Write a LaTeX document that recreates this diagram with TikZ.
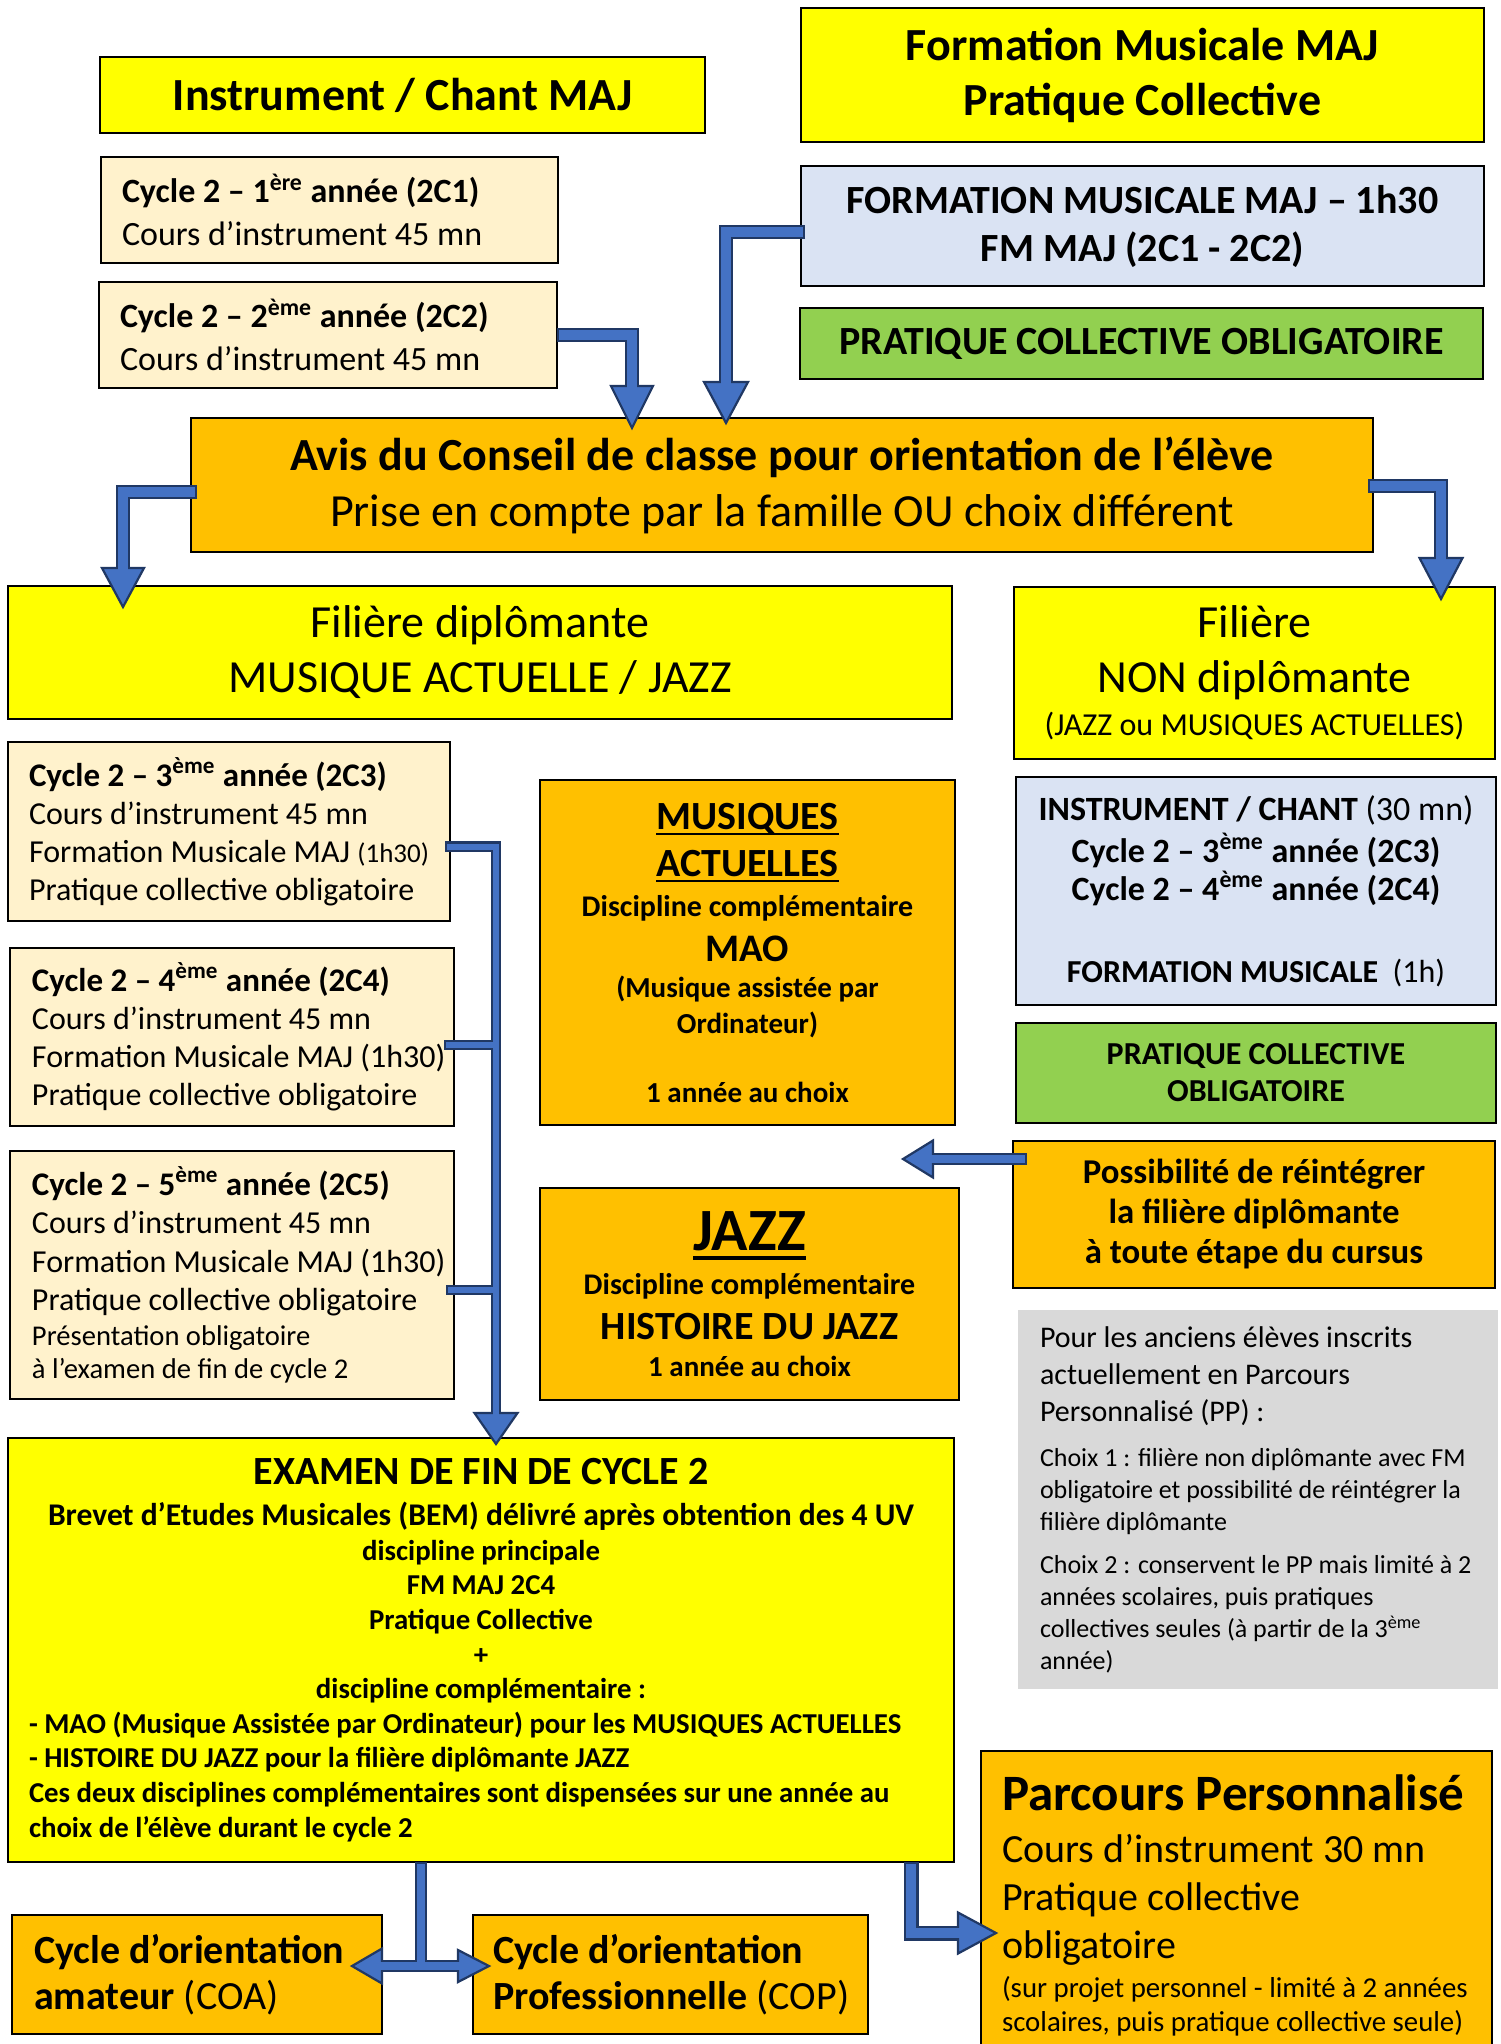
\documentclass[tikz,border=0pt]{standalone}
\usepackage{fontspec}
\setmainfont{Carlito}
\usetikzlibrary{calc}
\setlength{\parindent}{0pt}
\definecolor{cyel}{HTML}{FFFF00}
\definecolor{corg}{HTML}{FFC000}
\definecolor{ccream}{HTML}{FFF2CC}
\definecolor{cblue}{HTML}{DAE3F3}
\definecolor{cgreen}{HTML}{92D050}
\definecolor{cgray}{HTML}{D9D9D9}
\definecolor{afill}{HTML}{4472C4}
\definecolor{aline}{HTML}{203864}
\newcommand\ahead[4]{\filldraw[fill=afill,draw=aline,line width=1.1pt,line join=miter,shift={(#1)},rotate=#2] (0,0) -- (-#3,#4) -- (-#3,-#4) -- cycle;}
\newcommand\uln[3]{\leavevmode\setbox0\hbox{#1}\rlap{\rule[-#2]{\wd0}{#3}}\box0}
\begin{document}
\begin{tikzpicture}[x=0.5pt,y=-0.5pt,
  box/.style={draw=black,line width=1.3pt,anchor=north west,inner sep=0pt,outer sep=0pt},
  cbox/.style={box,align=center,execute at begin node={\spaceskip=0pt\xspaceskip=0pt\centering}},
  lbox/.style={box,align=left,execute at begin node={\spaceskip=0pt\xspaceskip=0pt\raggedright}},
  aout/.style={draw=aline,line width=#1,line join=miter},
  ain/.style={draw=afill,line width=#1,line join=miter,shorten <=1.2pt,shorten >=-1.5pt}]
\fill[white] (0,0) rectangle (1500,2044);
\useasboundingbox (0,0) rectangle (1500,2044);

% ---------- top ----------
\node[cbox,fill=cyel,minimum width=302.5pt,minimum height=38pt,text width=290pt,font=\fontsize{23}{27.5}\selectfont\bfseries] (inst) at (100,57) {Instrument / Chant MAJ};
\node[cbox,fill=cyel,minimum width=341.5pt,minimum height=67pt,text width=330pt,font=\fontsize{23}{27.5}\selectfont\bfseries] (fmt) at (801,8) {Formation Musicale MAJ\\Pratique Collective};
\node[lbox,fill=ccream,minimum width=228.5pt,minimum height=53pt,text width=207.5pt,font=\fontsize{17}{21.5}\selectfont] (c2c1) at (101,157) {\textbf{Cycle 2 – 1\textsuperscript{ère} année (2C1)}\\Cours d’instrument 45 mn};
\node[lbox,fill=ccream,minimum width=229pt,minimum height=53pt,text width=208pt,font=\fontsize{17}{21.5}\selectfont] (c2c2) at (99,282) {\textbf{Cycle 2 – 2\textsuperscript{ème} année (2C2)}\\Cours d’instrument 45 mn};
\node[cbox,fill=cblue,minimum width=341.5pt,minimum height=60pt,text width=330pt,font=\fontsize{20}{24}\selectfont\bfseries] (fmmaj) at (801,166) {FORMATION MUSICALE MAJ – 1h30\\FM MAJ (2C1 - 2C2)};
\node[cbox,fill=cgreen,minimum width=341.5pt,minimum height=35.5pt,text width=330pt,font=\fontsize{20}{24}\selectfont\bfseries] (pco1) at (800,308) {PRATIQUE COLLECTIVE OBLIGATOIRE};

% ---------- avis ----------
\node[cbox,fill=corg,minimum width=591pt,minimum height=67pt,text width=580pt,font=\fontsize{23}{28}\selectfont] (avis) at (191,418) {\textbf{Avis du Conseil de classe pour orientation de l’élève}\\Prise en compte par la famille OU choix différent};

\node[cbox,fill=cyel,minimum width=472pt,minimum height=66.5pt,text width=460pt,font=\fontsize{23}{27.5}\selectfont] (fdip) at (8,586) {Filière diplômante\\MUSIQUE ACTUELLE / JAZZ};
\node[cbox,fill=cyel,minimum width=240.5pt,minimum height=86pt,text width=230pt] (fnon) at (1014,587) {%
{\fontsize{23}{27.5}\selectfont Filière\par NON diplômante\par}
{\fontsize{16}{21.5}\selectfont (JAZZ ou MUSIQUES ACTUELLES)\par}};

% ---------- cycle 2 left ----------
\node[lbox,fill=ccream,minimum width=221pt,minimum height=89.5pt,text width=200pt,font=\fontsize{16}{19}\selectfont] (c2c3) at (8,742) {\mbox{\fontsize{16.5}{19}\selectfont\textbf{Cycle 2 – 3\textsuperscript{ème} année (2C3)}}\\\mbox{Cours d’instrument 45 mn}\\\mbox{Formation Musicale MAJ {\fontsize{13.5}{19}\selectfont (1h30)}}\\\mbox{Pratique collective obligatoire}};
\node[lbox,fill=ccream,minimum width=222pt,minimum height=89pt,text width=200pt,font=\fontsize{16}{19}\selectfont] (c2c4) at (10,948) {\mbox{\fontsize{16.5}{19}\selectfont\textbf{Cycle 2 – 4\textsuperscript{ème} année (2C4)}}\\\mbox{Cours d’instrument 45 mn}\\\mbox{Formation Musicale MAJ (1h30)}\\\mbox{Pratique collective obligatoire}};
\node[lbox,fill=ccream,minimum width=222pt,minimum height=124pt,text width=200pt] (c2c5) at (10,1151) {%
{\fontsize{16}{19.3}\selectfont\mbox{\fontsize{16.5}{19.3}\selectfont\textbf{Cycle 2 – 5\textsuperscript{ème} année (2C5)}}\\\mbox{Cours d’instrument 45 mn}\\\mbox{Formation Musicale MAJ (1h30)}\\\mbox{Pratique collective obligatoire}\par}
{\fontsize{14.3}{17.5}\selectfont Présentation obligatoire\par}
{\fontsize{14.3}{16.5}\selectfont à l’examen de fin de cycle 2\par}};

% ---------- middle ----------
\node[cbox,fill=corg,minimum width=207.5pt,minimum height=172.5pt,text width=200pt,font=\bfseries] (musact) at (540,780) {%
{\fontsize{20}{23.5}\selectfont\uln{MUSIQUES}{3.2pt}{1.2pt}\par\uln{ACTUELLES}{3.2pt}{1.2pt}\par}
{\fontsize{15}{20}\selectfont Discipline complémentaire\par}
{\fontsize{19.5}{22.5}\selectfont MAO\par}
{\fontsize{14.5}{18}\selectfont (Musique assistée par\\Ordinateur)\par}
{\fontsize{14.5}{34.5}\selectfont 1 année au choix\par}};
\node[cbox,fill=corg,minimum width=209.5pt,minimum height=106pt,text width=200pt,font=\bfseries] (jazz) at (540,1188) {%
{\fontsize{30}{30}\selectfont\uln{JAZZ}{4.6pt}{1.6pt}\par}
{\fontsize{15}{22}\selectfont Discipline complémentaire\par}
{\fontsize{20}{22.5}\selectfont HISTOIRE DU JAZZ\par}
{\fontsize{14.5}{18.5}\selectfont 1 année au choix\par}};

% ---------- right ----------
\node[cbox,fill=cblue,minimum width=240pt,minimum height=114pt,text width=236pt] (instch) at (1016,777) {%
{\fontsize{17}{20}\selectfont\textbf{INSTRUMENT / CHANT} (30 mn)\par}
{\fontsize{17}{21}\selectfont\bfseries Cycle 2 – 3\textsuperscript{ème} année (2C3)\par}
{\fontsize{17}{19}\selectfont\bfseries Cycle 2 – 4\textsuperscript{ème} année (2C4)\par}
{\fontsize{16}{41}\selectfont\textbf{FORMATION MUSICALE}\ \ (1h)\par}};
\node[cbox,fill=cgreen,minimum width=240pt,minimum height=50pt,text width=230pt,font=\fontsize{16}{18.5}\selectfont\bfseries] (pco2) at (1016,1023) {PRATIQUE COLLECTIVE\\OBLIGATOIRE};
\node[cbox,fill=corg,minimum width=241pt,minimum height=73.5pt,text width=230pt,font=\fontsize{17.4}{20}\selectfont\bfseries] (poss) at (1013,1141) {Possibilité de réintégrer\\la filière diplômante\\à toute étape du cursus};
\node[lbox,draw=none,fill=cgray,minimum width=240pt,minimum height=189.5pt,text width=218pt] (gray) at (1018,1310) {%
{\fontsize{15}{18.5}\selectfont Pour les anciens élèves inscrits\\actuellement en Parcours\\Personnalisé (PP) :\par}
{\fontsize{13}{16}\selectfont\vspace{6.5pt}\mbox{Choix 1 : filière non diplômante avec FM}\\\mbox{obligatoire et possibilité de réintégrer la}\\filière diplômante\par}
{\fontsize{13}{16}\selectfont\vspace{5.5pt}\mbox{Choix 2 : conservent le PP mais limité à 2}\\années scolaires, puis pratiques\\\mbox{collectives seules (à partir de la 3\textsuperscript{ème}}\\année)\par}};

% ---------- bottom ----------
\node[cbox,fill=cyel,minimum width=473pt,minimum height=212pt,text width=452pt,font=\bfseries] (exam) at (8,1438) {%
{\fontsize{20}{20}\selectfont EXAMEN DE FIN DE CYCLE 2\par}
{\fontsize{15.8}{20.5}\selectfont\mbox{Brevet d’Etudes Musicales (BEM) délivré après obtention des 4 UV}\par}
{\fontsize{14.4}{17.3}\selectfont discipline principale\\FM MAJ 2C4\\Pratique Collective\\+\\discipline complémentaire :\par}
{\fontsize{14.4}{17.3}\selectfont\raggedright\mbox{- MAO (Musique Assistée par Ordinateur) pour les MUSIQUES ACTUELLES}\\\mbox{- HISTOIRE DU JAZZ pour la filière diplômante JAZZ}\\\mbox{Ces deux disciplines complémentaires sont dispensées sur une année au}\\\mbox{choix de l’élève durant le cycle 2}\par}};
\node[lbox,fill=corg,minimum width=255.5pt,minimum height=154pt,text width=234.5pt] (parc) at (981,1751) {%
{\fontsize{25.5}{30}\selectfont\bfseries\mbox{Parcours Personnalisé}\par}
{\fontsize{20}{26}\selectfont Cours d’instrument 30 mn\par}
{\fontsize{20}{24}\selectfont Pratique collective\\obligatoire\par}
{\fontsize{14.4}{19.5}\selectfont\mbox{(sur projet personnel - limité à 2 années}\par}
{\fontsize{14.4}{17}\selectfont\mbox{scolaires, puis pratique collective seule)}\par}};
\node[lbox,fill=corg,minimum width=185pt,minimum height=59.5pt,text width=163pt,font=\fontsize{20}{23}\selectfont] (coa) at (12,1915) {\mbox{\textbf{Cycle d’orientation}}\\\mbox{\textbf{amateur} (COA)}};
\node[lbox,fill=corg,minimum width=197.5pt,minimum height=59.5pt,text width=177.5pt,font=\fontsize{20}{23}\selectfont] (cop) at (473,1915) {\mbox{\textbf{Cycle d’orientation}}\\\mbox{\textbf{Professionnelle} (COP)}};

% ---------- arrows ----------
% A : 2C2 -> avis
\coordinate (aT) at ($(avis.north -| 632,0)+(0,10)$);
\coordinate (aB) at ($(aT)+(0,-42)$);
\ahead{aT}{-90}{42}{21}
\draw[aout=7.3pt] (c2c2.east) -| (aB);
\draw[ain=4.9pt] (c2c2.east) -| (aB);
% B : FM MAJ -> avis
\coordinate (bS) at ($(fmmaj.west)+(4,6)$);
\coordinate (bT) at ($(avis.north -| 726,0)+(0,5)$);
\coordinate (bB) at ($(bT)+(0,-41)$);
\ahead{bT}{-90}{41}{22}
\draw[aout=7.3pt] (bS) -| (bB);
\draw[ain=4.9pt] (bS) -| (bB);
% C : avis -> filiere diplomante
\coordinate (cS) at ($(avis.west)+(6,7)$);
\coordinate (cT) at ($(fdip.north -| 123,0)+(0,21)$);
\coordinate (cB) at ($(cT)+(0,-39)$);
\ahead{cT}{-90}{39}{21}
\draw[aout=7.3pt] (cS) -| (cB);
\draw[ain=4.9pt] (cS) -| (cB);
% D : avis -> filiere non diplomante
\coordinate (dS) at ($(avis.east)+(-5,1)$);
\coordinate (dT) at ($(fnon.north -| 1441,0)+(0,12)$);
\coordinate (dB) at ($(dT)+(0,-41)$);
\ahead{dT}{-90}{41}{21.5}
\draw[aout=7.3pt] (dS) -| (dB);
\draw[ain=4.9pt] (dS) -| (dB);
% E : 2C3/2C4/2C5 -> examen
\coordinate (eT) at ($(exam.north -| 496,0)+(0,6)$);
\coordinate (eB) at ($(eT)+(0,-31)$);
\coordinate (e3) at ($(c2c3.east)+(-5,15)$);
\coordinate (e4) at ($(c2c4.east)+(-10,8)$);
\coordinate (e5) at ($(c2c5.east)+(-8,15)$);
\ahead{eT}{-90}{31}{21.5}
\draw[aout=5.2pt] (e3) -| (eB);
\draw[aout=5.2pt] (e4) -- (e4 -| eB);
\draw[aout=5.2pt] (e5) -- (e5 -| eB);
\draw[ain=3pt,shorten >=0pt] (e4) -- (e4 -| eB);
\draw[ain=3pt,shorten >=0pt] (e5) -- (e5 -| eB);
\draw[ain=3pt] (e3) -| (eB);
% F : possibilite -> filiere diplomante
\coordinate (fS) at ($(poss.north west)+(14,18)$);
\coordinate (fT) at ($(musact.south east)+(-52,34)$);
\coordinate (fB) at ($(fT)+(30,0)$);
\ahead{fT}{180}{30}{18.5}
\draw[aout=6.2pt] (fS) -- (fB);
\draw[ain=4pt] (fS) -- (fB);
% G : examen -> COA / COP
\coordinate (gS) at (exam.south -| 421,0);
\coordinate (gJ) at ($(gS)+(0,104)$);
\coordinate (gLT) at ($(coa.east |- gJ)+(-30,0)$);
\coordinate (gLB) at ($(gLT)+(30,0)$);
\coordinate (gRT) at ($(cop.west |- gJ)+(16,0)$);
\coordinate (gRB) at ($(gRT)+(-31,0)$);
\ahead{gLT}{180}{30}{17.5}
\ahead{gRT}{0}{31}{16}
\draw[aout=6pt] (gS) -- (gJ);
\draw[aout=6pt] (gLB) -- (gRB);
\draw[ain=3.8pt,shorten >=0pt] (gS) -- (gJ);
\draw[ain=3.8pt,shorten <=-1.5pt] (gLB) -- (gRB);
% H : examen -> parcours personnalise
\coordinate (hS) at (exam.south -| 911,0);
\coordinate (hT) at ($(parc.west |- hS)+(15,71)$);
\coordinate (hB) at ($(hT)+(-38,0)$);
\ahead{hT}{0}{38}{20.5}
\draw[aout=7.5pt] (hS) |- (hB);
\draw[ain=5.3pt] (hS) |- (hB);
\end{tikzpicture}
\end{document}
